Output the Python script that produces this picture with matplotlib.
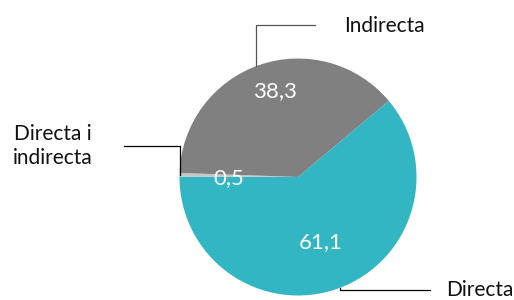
import matplotlib
matplotlib.use("Agg")
import matplotlib.pyplot as plt
import numpy as np

categories = ["Directa", "Directa i\nindirecta", "Indirecta"]
values = [61.1, 0.5, 38.3]
value_labels = ["61,1", "0,5", "38,3"]
colors = ["#33b6c4", "#c6c6c6", "#808080"]

plt.rcParams['font.family'] = ['Lato', 'DejaVu Sans']

fig = plt.figure(figsize=(5.14, 3.0), dpi=100)
ax = fig.add_axes([0, 0, 1, 1])

cx, cy, R = 298, 123, 118.5
wedges, _ = ax.pie(values, colors=colors, startangle=40, counterclock=False,
                   center=(cx, cy), radius=R, frame=True,
                   wedgeprops=dict(linewidth=0))
ax.set_xlim(0, 514)
ax.set_ylim(0, 300)
ax.set_aspect('equal')
ax.axis('off')

# value labels (position as fraction of radius, angle)
pos = [(0.58, -71), (0.58, 181), (0.75, 105)]
for (f, a), lab in zip(pos, value_labels):
    x = cx + f * R * np.cos(np.radians(a))
    y = cy + f * R * np.sin(np.radians(a))
    ax.text(x, y, lab, color='white', fontsize=16, ha='center', va='center')

lc = '#000000'
# Indirecta leader
a = np.radians(111)
px, py = cx + R * np.cos(a), cy + R * np.sin(a)
ax.plot([px, px, 315], [py, 275, 275], color='#555555', lw=0.9)
ax.text(344, 274, categories[2], fontsize=15, ha='left', va='center', color='#111111')

# Directa i indirecta leader
a = np.radians(179)
px, py = cx + R * np.cos(a), cy + R * np.sin(a)
ax.plot([px, px, 124], [py, 154, 154], color=lc, lw=0.9)
ax.text(53, 154, categories[1], fontsize=15, ha='center', va='center',
        color='#111111', linespacing=1.2)

# Directa leader
a = np.radians(-69)
px, py = cx + R * np.cos(a), cy + R * np.sin(a)
ax.plot([px, px, 430], [py, 10, 10], color=lc, lw=0.9)
ax.text(446, 10, categories[0], fontsize=15, ha='left', va='center', color='#111111')

fig.savefig("out.png", dpi=100)
